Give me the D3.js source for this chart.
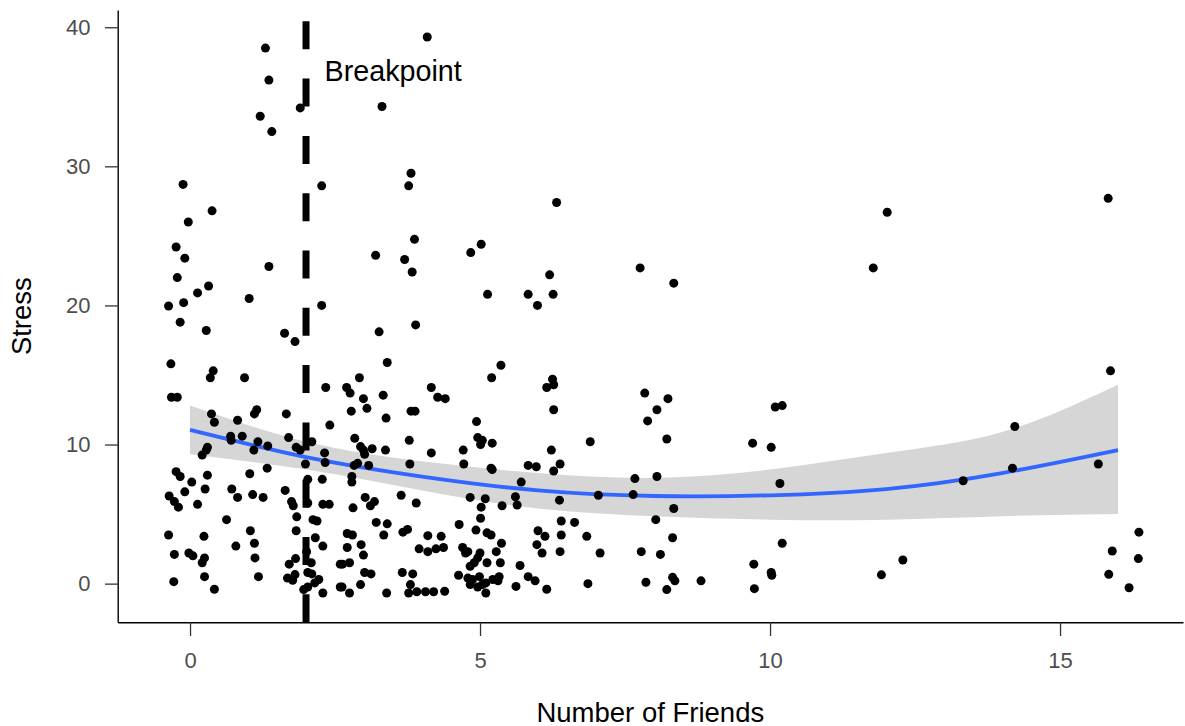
<!DOCTYPE html>
<meta charset="utf-8">
<script src="https://cdn.jsdelivr.net/npm/d3@7"></script>
<style>
body { margin: 0; background: #fff; }
svg text { font-family: "Liberation Sans", Arial, sans-serif; }
.tick text { fill: #4D4D4D; font-size: 22px; font-family: "Liberation Sans", Arial, sans-serif; }
.tick line { stroke: #333; stroke-width: 1.3; }
.domain { stroke: #000; stroke-width: 1.4; }
</style>

<div id="chart"></div>

<script>

// number of friends (x) and stress (y) for every respondent
var friends = [
  1.30, 1.36, 1.90, 1.21, 1.41, 4.09, 3.31, -0.12, 2.27, 0.38,
  -0.03, -0.24, -0.09, 1.36, -0.22, 0.32, 0.13, 1.02, 2.27, -0.37,
  -0.11, -0.17, 0.28, 1.63, 1.81, -0.33, 0.40, 0.35, 0.94, 2.34,
  -0.32, -0.22, 1.15, 1.11, 0.37, 0.42, 0.82, 1.66, 2.41, 0.70,
  0.71, 0.90, 1.17, 1.10, 1.34, 1.70, 1.83, 1.90, 2.10, 0.30,
  0.28, 0.21, 2.32, 2.33, 1.99, 1.33, 1.03, -0.24, -0.17, 0.03,
  0.30, -0.09, 0.26, 0.72, 0.82, 1.08, 1.26, 1.64, 2.28, 2.03,
  -0.36, -0.27, -0.20, 0.13, 1.75, 1.78, 2.03, 2.29, 2.40, 0.63,
  1.84, 2.12, 2.19, 1.83, 1.04, -0.37, 0.24, 2.16, 2.01, 1.11,
  0.79, 2.29, -0.27, -0.02, 0.05, 0.21, 0.25, 1.12, 1.71, 1.82,
  2.09, 2.59, -0.28, 0.25, 0.42, 1.18, 1.68, 1.77, 1.81, 2.03,
  2.10, 2.15, 2.22, 2.29, 1.96, 2.03, 2.59, 3.81, 3.77, 3.87,
  3.20, 3.70, 3.83, 5.02, 4.84, 5.13, 5.83, 3.89, 3.26, 3.40,
  5.36, 2.92, 5.20, 2.70, 2.76, 2.99, 3.33, 4.16, 4.27, 4.40,
  2.78, 3.05, 3.81, 3.88, 3.38, 4.94, 2.84, 3.78, 4.96, 5.04,
  5.01, 5.21, 2.94, 2.99, 3.14, 3.01, 3.37, 4.16, 4.71, 2.83,
  2.89, 3.08, 3.79, 4.72, 5.19, 5.21, 5.83, 2.79, 2.79, 5.71,
  3.02, 3.11, 3.18, 3.64, 3.90, 4.83, 5.09, 5.61, 5.64, 5.38,
  5.02, 2.81, 5.01, 4.64, 3.21, 3.40, 4.93, 5.12, 5.19, 2.71,
  2.80, 3.34, 3.67, 3.75, 4.10, 4.33, 2.95, 2.71, 3.95, 4.10,
  4.24, 4.37, 4.70, 4.75, 4.79, 5.00, 4.96, 4.90, 4.83, 5.28,
  5.37, 5.35, 5.12, 2.99, 2.63, 2.75, 5.69, 3.01, 3.12, 3.66,
  3.84, 4.63, 4.79, 4.87, 4.99, 5.10, 5.22, 5.33, 5.31, 4.83,
  4.96, 5.04, 5.10, 5.62, 5.83, 2.62, 2.75, 2.94, 3.39, 3.80,
  3.77, 3.91, 4.06, 4.20, 4.39, 6.32, 6.20, 6.26, 5.99, 7.76,
  8.34, 6.25, 6.15, 6.27, 7.84, 8.24, 6.27, 8.05, 7.89, 8.22,
  6.90, 6.23, 5.97, 6.38, 6.27, 7.67, 8.05, 7.04, 7.64, 6.37,
  8.34, 8.03, 6.40, 6.63, 6.00, 6.12, 6.40, 6.84, 8.32, 5.98,
  6.07, 6.38, 7.07, 7.78, 8.11, 5.95, 6.15, 6.86, 7.86, 8.32,
  8.36, 8.22, 8.81, 10.09, 10.21, 9.70, 10.02, 10.17, 10.21, 9.72,
  10.02, 10.03, 9.73, 11.92, 12.29, 11.78, 12.02, 15.87, 14.22, 14.18,
  13.33, 15.66, 16.36, 15.90, 16.35, 15.84, 16.19, 15.83
];

var stress = [
  38.5, 36.2, 34.2, 33.6, 32.5, 39.3, 34.3, 28.7, 28.6, 26.8,
  26.0, 24.2, 23.4, 22.8, 22.0, 21.4, 20.9, 20.5, 20.0, 19.96,
  20.2, 18.8, 18.2, 18.0, 17.4, 15.8, 15.3, 14.8, 14.8, 14.1,
  13.4, 13.4, 12.5, 12.2, 12.2, 11.6, 11.75, 12.2, 11.4, 10.6,
  10.3, 10.6, 10.2, 9.6, 9.9, 10.5, 9.8, 9.6, 10.2, 9.8,
  9.6, 9.25, 9.4, 8.7, 8.6, 8.3, 7.9, 8.05, 7.7, 7.3,
  7.8, 6.6, 6.8, 6.8, 6.2, 6.4, 6.2, 6.7, 7.5, 7.5,
  6.3, 5.9, 5.5, 5.7, 5.9, 5.6, 5.8, 5.7, 5.7, 4.6,
  4.8, 4.6, 4.5, 3.8, 3.8, 3.5, 3.4, 3.3, 2.3, 2.9,
  2.7, 2.7, 2.1, 2.2, 2.0, 1.5, 1.85, 1.85, 1.4, 1.8,
  1.5, 1.4, 0.14, 0.5, -0.4, 0.5, 0.4, 0.24, 0.65, 0.8,
  0.7, 0.05, 0.3, -0.67, -0.43, -0.24, -0.24, 29.5, 28.6, 24.75,
  23.6, 23.3, 22.4, 24.4, 23.8, 20.8, 20.8, 18.6, 18.1, 15.9,
  15.7, 14.8, 14.8, 14.1, 13.7, 13.3, 13.55, 14.1, 13.4, 13.3,
  12.4, 12.6, 12.4, 12.4, 11.9, 11.65, 10.45, 10.3, 10.5, 10.3,
  10.0, 10.1, 9.85, 9.6, 9.7, 9.3, 9.6, 9.4, 9.6, 8.5,
  8.65, 8.5, 8.6, 8.6, 8.3, 8.2, 8.5, 7.7, 7.3, 7.3,
  6.2, 5.6, 5.9, 6.35, 5.8, 6.2, 6.1, 6.25, 5.65, 5.6,
  5.5, 5.45, 4.7, 4.25, 4.4, 4.3, 3.85, 3.65, 3.5, 3.6,
  3.5, 3.5, 3.7, 3.9, 3.45, 3.4, 2.8, 2.6, 2.5, 2.3,
  2.5, 2.6, 2.6, 2.2, 2.3, 2.2, 1.85, 1.5, 1.25, 2.3,
  2.9, 1.5, 1.5, 2.05, 1.4, 1.5, 1.3, 0.8, 0.7, 0.8,
  0.7, 0.6, 0.4, 0.3, 0.5, 0.05, 0.3, 0.5, 0.2, -0.07,
  -0.24, -0.07, -0.67, -0.2, 0.5, -0.24, -0.67, -0.07, -0.67, -0.07,
  -0.67, -0.58, -0.58, -0.58, -0.55, 27.4, 22.2, 20.8, 20.0, 22.7,
  21.6, 14.7, 14.1, 14.3, 13.7, 13.3, 12.5, 12.5, 11.7, 10.4,
  10.2, 9.6, 8.4, 8.6, 8.1, 7.55, 7.7, 6.35, 6.4, 6.0,
  5.4, 4.6, 4.5, 4.4, 3.8, 3.4, 3.5, 3.4, 3.3, 2.8,
  2.2, 2.3, 2.2, 2.3, 2.1, 0.2, -0.4, 0.0, 0.1, 0.45,
  0.2, -0.43, 0.2, 12.7, 12.8, 10.1, 9.8, 7.2, 2.9, 1.4,
  0.8, 0.6, -0.36, 0.63, 1.7, 22.7, 26.7, 15.3, 11.3, 8.3,
  7.4, 8.6, 3.7, 2.35, 1.8, 0.67, -0.3, 27.7
];

// smoother (fit + confidence band) read at a few x positions
var fitX  = [0, 2, 4, 6, 8, 10, 12, 14, 16];
var fitY  = [11.05, 9.1, 7.7, 6.7, 6.3, 6.35, 6.8, 7.95, 9.6];
var fitLo = [9.3, 8.2, 6.7, 5.4, 4.85, 4.6, 4.6, 4.85, 5.0];
var fitHi = [12.8, 10.2, 8.8, 7.95, 7.6, 8.2, 9.4, 10.9, 14.3];

var xTicks = [0, 5, 10, 15];
var yTicks = [0, 10, 20, 30, 40];
var breakpoint = 2;

var W = 1185, H = 726;
var pLeft = 117.7, pRight = 1183, pTop = 10, pBottom = 622.3;

var svg = d3.select("#chart")
  .append("svg")
    .attr("width", W)
    .attr("height", H);

var x = d3.scaleLinear()
  .domain([-1.247, 17.12])
  .range([pLeft, pRight]);

var y = d3.scaleLinear()
  .domain([-2.78, 41.24])
  .range([pBottom, pTop]);

var points = friends.map(function(f, i) { return {x: f, y: stress[i]}; });
var fit = fitX.map(function(v, i) { return {x: v, y: fitY[i], lo: fitLo[i], hi: fitHi[i]}; });

// confidence band
svg.append("path")
  .datum(fit)
  .attr("fill", "#D6D6D6")
  .attr("d", d3.area()
    .curve(d3.curveNatural)
    .x(function(d) { return x(d.x); })
    .y0(function(d) { return y(d.lo); })
    .y1(function(d) { return y(d.hi); }));

// fitted line
svg.append("path")
  .datum(fit)
  .attr("fill", "none")
  .attr("stroke", "#3366FF")
  .attr("stroke-width", 3.8)
  .attr("d", d3.line()
    .curve(d3.curveNatural)
    .x(function(d) { return x(d.x); })
    .y(function(d) { return y(d.y); }));

// points
svg.append("g")
  .selectAll("circle")
  .data(points)
  .enter()
  .append("circle")
    .attr("cx", function(d) { return x(d.x); })
    .attr("cy", function(d) { return y(d.y); })
    .attr("r", 4.5)
    .attr("fill", "#000");

// breakpoint line, dashes start from the bottom like ggplot
svg.append("line")
  .attr("x1", x(breakpoint))
  .attr("x2", x(breakpoint))
  .attr("y1", pBottom)
  .attr("y2", pTop)
  .attr("stroke", "#000")
  .attr("stroke-width", 7)
  .attr("stroke-dasharray", "28 29.3");

svg.append("text")
  .attr("x", x(2.32))
  .attr("y", y(36.15))
  .attr("font-size", "28.7px")
  .attr("fill", "#000")
  .text("Breakpoint");

// axes
svg.append("g")
  .attr("transform", "translate(0," + pBottom + ")")
  .call(d3.axisBottom(x).tickValues(xTicks).tickSize(13.7).tickSizeOuter(0).tickPadding(16.7));

svg.append("g")
  .attr("transform", "translate(" + pLeft + ",0)")
  .call(d3.axisLeft(y).tickValues(yTicks).tickSize(12.7).tickSizeOuter(0).tickPadding(14.5));

svg.append("text")
  .attr("x", (pLeft + pRight) / 2)
  .attr("y", 722)
  .attr("text-anchor", "middle")
  .attr("font-size", "27.5px")
  .text("Number of Friends");

svg.append("text")
  .attr("transform", "translate(31," + ((pTop + pBottom) / 2) + ") rotate(-90)")
  .attr("text-anchor", "middle")
  .attr("font-size", "27.5px")
  .text("Stress");

</script>
